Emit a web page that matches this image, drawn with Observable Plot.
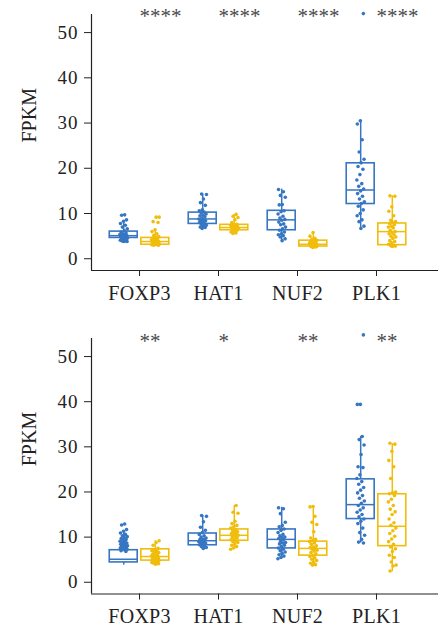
<!DOCTYPE html>
<html>
<head>
<meta charset="utf-8">
<script src="https://cdn.jsdelivr.net/npm/d3@7"></script>
<script src="https://cdn.jsdelivr.net/npm/@observablehq/plot@0.6"></script>
<style>
  html, body { margin: 0; padding: 0; background: #fff; }
  #wrap { width: 438px; }
  #wrap svg { display: block; }
  #bottom { margin-top: 8px; }
  g[aria-label="y-axis tick label"] text { letter-spacing: 1px; }
  g[aria-label="x-axis tick label"] text { letter-spacing: 0.3px; }
</style>
</head>
<body>
<div id="wrap"><div id="top"></div><div id="bottom"></div></div>
<script>
// ---------- categories ----------
const genes = ["FOXP3", "HAT1", "NUF2", "PLK1"];
const groups = ["Normal", "Tumor"];
const yTicks = [0, 10, 20, 30, 40, 50];
const groupColors = ["#3676c2", "#f0bd0c"];

// box stats, order: FOXP3-N, FOXP3-T, HAT1-N, HAT1-T, NUF2-N, NUF2-T, PLK1-N, PLK1-T
const topLow  = [3.8, 3.0, 6.7, 5.6, 4.0, 2.5, 6.7, 2.7];
const topQ1   = [4.6, 3.1, 7.7, 6.3, 6.3, 2.7, 12.1, 3.0];
const topMed  = [5.1, 3.8, 8.8, 6.9, 8.6, 3.2, 15.2, 6.0];
const topQ3   = [6.0, 4.6, 10.2, 7.5, 10.6, 4.0, 21.1, 7.8];
const topHigh = [8.0, 6.6, 14.3, 9.8, 15.4, 6.0, 30.6, 13.9];

const botLow  = [3.8, 4.0, 7.4, 7.3, 5.2, 3.8, 8.7, 2.3];
const botQ1   = [4.4, 4.8, 8.2, 9.2, 7.5, 5.9, 14.0, 8.0];
const botMed  = [5.1, 5.7, 9.2, 10.4, 9.5, 7.5, 17.2, 12.4];
const botQ3   = [7.1, 7.3, 10.8, 11.7, 11.7, 9.0, 22.8, 19.5];
const botHigh = [11.2, 9.2, 14.8, 17.0, 16.6, 16.9, 32.3, 30.7];

// points
const topFOXP3N = [9.7, 9.6, 8.6, 8.3, 7.8, 7.4, 7.0, 6.6, 6.2, 5.9, 5.7, 5.5, 5.4, 5.3, 5.2, 5.1, 5.0, 4.9, 4.8, 4.7, 4.6, 4.5, 4.4, 4.3, 4.2, 4.1, 4.0, 3.9, 3.8, 3.8];
const topFOXP3T = [9.2, 9.2, 8.2, 8.0, 6.4, 6.0, 5.5, 5.2, 4.9, 4.7, 4.6, 4.5, 4.3, 4.2, 4.1, 4.0, 3.9, 3.8, 3.7, 3.6, 3.5, 3.5, 3.4, 3.3, 3.3, 3.2, 3.1, 3.1, 3.0, 3.0];
const topHAT1N  = [14.3, 14.2, 13.2, 12.4, 11.8, 10.8, 10.6, 10.3, 10.1, 9.9, 9.6, 9.5, 9.3, 9.0, 8.8, 8.6, 8.5, 8.4, 8.2, 8.0, 7.8, 7.6, 7.4, 7.2, 7.0, 6.9, 6.7];
const topHAT1T  = [9.8, 9.4, 9.1, 8.6, 8.0, 7.6, 7.5, 7.4, 7.3, 7.2, 7.1, 7.0, 7.0, 6.9, 6.8, 6.7, 6.6, 6.5, 6.3, 6.1, 5.9, 5.7, 5.6];
const topNUF2N  = [15.3, 14.8, 14.0, 13.6, 12.0, 11.9, 10.6, 10.4, 9.9, 9.4, 9.0, 8.7, 8.5, 8.1, 7.7, 7.5, 7.0, 6.6, 6.3, 5.9, 5.5, 5.3, 5.1, 4.8, 4.4, 4.0];
const topNUF2T  = [5.8, 5.0, 4.5, 4.3, 4.1, 4.0, 3.8, 3.7, 3.6, 3.5, 3.4, 3.3, 3.3, 3.2, 3.1, 3.0, 2.9, 2.8, 2.8, 2.7, 2.6, 2.5];
const topPLK1N  = [54.2, 30.5, 29.8, 26.3, 23.6, 22.0, 21.2, 20.4, 19.8, 18.6, 17.4, 16.6, 16.0, 15.4, 15.0, 14.4, 13.8, 13.2, 12.6, 12.2, 11.6, 10.8, 10.0, 9.5, 8.6, 8.2, 7.2, 6.7];
const topPLK1T  = [13.9, 13.8, 11.5, 10.5, 9.5, 8.5, 8.2, 8.0, 7.8, 7.5, 7.2, 7.0, 6.8, 6.3, 6.0, 5.8, 5.5, 5.3, 5.0, 4.8, 4.5, 4.0, 3.8, 3.5, 3.2, 3.0, 2.9, 2.8, 2.7];

const botFOXP3N = [12.9, 12.7, 11.7, 11.3, 10.9, 10.6, 10.3, 10.1, 9.9, 9.7, 9.5, 9.3, 9.1, 9.0, 8.8, 8.7, 8.5, 8.4, 8.3, 8.2, 8.1, 8.0, 7.9, 7.8, 7.7, 7.6, 7.5, 7.4, 7.3, 7.2, 7.0, 6.8];
const botFOXP3T = [9.2, 8.8, 8.2, 7.5, 7.2, 7.0, 6.9, 6.8, 6.6, 6.4, 6.2, 6.0, 5.9, 5.8, 5.6, 5.5, 5.3, 5.2, 5.1, 5.0, 4.9, 4.8, 4.7, 4.6, 4.6, 4.5, 4.4, 4.3, 4.2, 4.1, 4.0];
const botHAT1N  = [14.8, 14.6, 13.4, 12.2, 11.5, 11.0, 10.6, 10.3, 10.0, 9.8, 9.6, 9.5, 9.4, 9.2, 9.0, 8.9, 8.8, 8.7, 8.5, 8.3, 8.1, 7.9, 7.7, 7.5];
const botHAT1T  = [17.0, 15.5, 15.3, 13.5, 13.0, 12.6, 12.3, 12.0, 11.7, 11.4, 11.2, 11.1, 10.8, 10.6, 10.5, 10.4, 10.2, 10.0, 9.8, 9.6, 9.4, 9.2, 9.0, 8.8, 8.5, 8.2, 7.9, 7.6, 7.3];
const botNUF2N  = [16.5, 16.3, 15.2, 13.3, 12.6, 12.3, 11.8, 11.5, 11.0, 10.6, 10.3, 10.0, 9.9, 9.7, 9.4, 9.1, 8.8, 8.7, 8.5, 8.2, 7.9, 7.6, 7.3, 7.0, 6.7, 6.4, 6.1, 5.8, 5.5, 5.2];
const botNUF2T  = [16.8, 16.7, 14.6, 13.3, 12.8, 11.2, 9.8, 9.5, 9.2, 9.0, 8.7, 8.4, 8.1, 7.8, 7.7, 7.5, 7.3, 7.1, 6.9, 6.6, 6.3, 6.0, 5.7, 5.4, 5.1, 4.8, 4.5, 4.2, 3.9, 3.8];
const botPLK1N  = [54.8, 39.4, 39.4, 32.3, 31.6, 30.4, 28.3, 25.6, 25.4, 23.8, 23.0, 22.3, 21.7, 21.0, 20.4, 19.8, 19.2, 18.6, 18.0, 17.5, 17.0, 16.5, 16.0, 15.5, 15.0, 14.5, 14.0, 13.5, 13.0, 12.0, 11.0, 10.4, 9.5, 8.9, 8.7];
const botPLK1T  = [30.8, 30.6, 29.0, 27.0, 25.6, 23.0, 20.0, 19.8, 19.6, 19.2, 18.4, 17.8, 17.0, 16.2, 15.6, 15.0, 14.0, 13.2, 12.6, 12.0, 11.4, 10.8, 10.2, 9.6, 9.0, 8.4, 7.8, 7.4, 6.8, 6.0, 5.5, 4.5, 3.8, 3.6, 2.5];

const topSig = ["****", "****", "****", "****"];
const botSig = ["**", "*", "**", "**"];

// ---------- drawing ----------
const xDomain = [-0.608, 3.785];
const yDomain = [-2.6, 54];
const groupOffset = 0.2, halfBox = 0.177, jitterHalf = 0.05;
const fontFamily = "'Liberation Serif', 'DejaVu Serif', serif";

function panel({low, q1, med, q3, high, points, sig, height, marginTop, marginBottom, sigDy}) {
  const boxes = [];
  const dots = [];
  genes.forEach((g, gi) => {
    groups.forEach((grp, k) => {
      const idx = gi * 2 + k;
      const cx = gi + (k === 0 ? -groupOffset : groupOffset);
      boxes.push({gene: g, group: grp, cx, low: low[idx], q1: q1[idx], med: med[idx], q3: q3[idx], high: high[idx]});
      points[idx].forEach((v, j) => {
        const u = ((j + 1) * 0.6180339887 + idx * 0.37) % 1;   // deterministic jitter
        dots.push({group: grp, x: cx + (u - 0.5) * 2 * jitterHalf, v});
      });
    });
  });
  return Plot.plot({
    width: 438, height, marginLeft: 91, marginRight: 0, marginTop, marginBottom,
    style: {fontFamily, color: "#222", background: "#fff", overflow: "visible"},
    x: {type: "linear", domain: xDomain, axis: null},
    y: {domain: yDomain, axis: null},
    color: {domain: groups, range: groupColors},
    marks: [
      Plot.ruleX([xDomain[0]], {stroke: "#222", strokeWidth: 1.2}),
      Plot.ruleY([yDomain[0]], {stroke: "#222", strokeWidth: 1.2}),
      Plot.axisY({ticks: yTicks, tickSize: 7, tickPadding: 6, fontSize: 19, label: null, stroke: "#222"}),
      Plot.axisX({ticks: [0, 1, 2, 3], tickFormat: i => genes[i], tickSize: 6, tickPadding: 9, fontSize: 20, label: null, anchor: "bottom"}),
      Plot.text(["FPKM"], {frameAnchor: "left", rotate: -90, dx: -62, fontSize: 20, fill: "#222"}),
      Plot.ruleX(boxes, {x: "cx", y1: "q3", y2: "high", stroke: "group", strokeWidth: 1.5}),
      Plot.ruleX(boxes, {x: "cx", y1: "low", y2: "q1", stroke: "group", strokeWidth: 1.5}),
      Plot.rect(boxes, {x1: d => d.cx - halfBox, x2: d => d.cx + halfBox, y1: "q1", y2: "q3", stroke: "group", fill: "white", fillOpacity: 0, strokeWidth: 1.6}),
      Plot.ruleY(boxes, {y: "med", x1: d => d.cx - halfBox, x2: d => d.cx + halfBox, stroke: "group", strokeWidth: 1.5}),
      Plot.dot(dots, {x: "x", y: "v", r: 1.8, fill: "group", stroke: null}),
      Plot.text(sig, {x: (d, i) => i, y: () => 54.2, text: d => d, textAnchor: "start", dy: sigDy, fontSize: 21, fill: "#4a4a4a"})
    ]
  });
}

document.getElementById("top").append(panel({
  low: topLow, q1: topQ1, med: topMed, q3: topQ3, high: topHigh,
  points: [topFOXP3N, topFOXP3T, topHAT1N, topHAT1T, topNUF2N, topNUF2T, topPLK1N, topPLK1T],
  sig: topSig, height: 310, marginTop: 14, marginBottom: 40, sigDy: 3
}));
document.getElementById("bottom").append(panel({
  low: botLow, q1: botQ1, med: botMed, q3: botQ3, high: botHigh,
  points: [botFOXP3N, botFOXP3T, botHAT1N, botHAT1T, botNUF2N, botNUF2T, botPLK1N, botPLK1T],
  sig: botSig, height: 317, marginTop: 20, marginBottom: 41.5, sigDy: 4
}));
</script>
</body>
</html>
